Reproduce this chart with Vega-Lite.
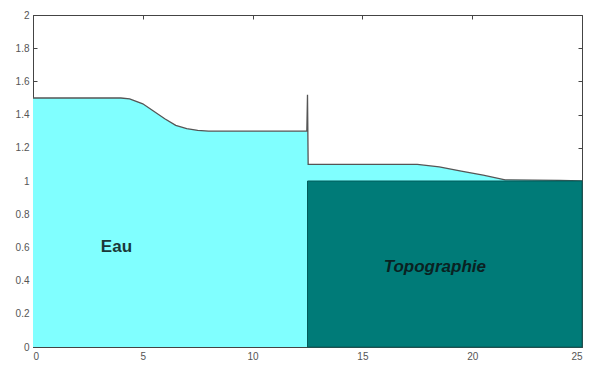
{
  "$schema": "https://vega.github.io/schema/vega-lite/v6.json",
  "width": 549,
  "height": 332,
  "autosize": {"type": "none"},
  "padding": {"left": 33, "top": 15, "right": 7, "bottom": 21},
  "background": "white",
  "config": {
    "view": {"stroke": "#444", "strokeWidth": 1},
    "axis": {
      "grid": false,
      "domainColor": "#444",
      "tickColor": "#444",
      "labelColor": "#555",
      "labelFont": "Liberation Sans",
      "labelFontSize": 10,
      "title": null
    }
  },
  "datasets": {
    "water": [
      {"x": 0, "h": 1.5},
      {"x": 4, "h": 1.5},
      {"x": 4.4, "h": 1.495},
      {"x": 5, "h": 1.465},
      {"x": 5.5, "h": 1.42},
      {"x": 6, "h": 1.375},
      {"x": 6.5, "h": 1.335},
      {"x": 7, "h": 1.315},
      {"x": 7.5, "h": 1.305},
      {"x": 8, "h": 1.3},
      {"x": 12.47, "h": 1.3},
      {"x": 12.5, "h": 1.52},
      {"x": 12.53, "h": 1.1},
      {"x": 17.5, "h": 1.1},
      {"x": 18.5, "h": 1.085},
      {"x": 19.5, "h": 1.06},
      {"x": 20.5, "h": 1.035},
      {"x": 21.5, "h": 1.007},
      {"x": 24, "h": 1.004},
      {"x": 25, "h": 1.0}
    ],
    "topo": [
      {"x0": 12.5, "x1": 25, "y0": 0, "y1": 1}
    ],
    "labels": [
      {"x": 3.8, "y": 0.6, "label": "Eau", "kind": "eau"},
      {"x": 18.3, "y": 0.48, "label": "Topographie", "kind": "topo"}
    ]
  },
  "resolve": {"axis": {"x": "independent", "y": "independent"}},
  "layer": [
    {
      "data": {"name": "water"},
      "mark": {"type": "area", "color": "#80ffff", "opacity": 1, "line": {"color": "#555", "strokeWidth": 1.3}},
      "encoding": {
        "x": {"field": "x", "type": "quantitative", "scale": {"domain": [0, 25], "nice": false},
              "axis": {"values": [0, 5, 10, 15, 20, 25], "tickSize": -4, "labelPadding": 8}},
        "y": {"field": "h", "type": "quantitative", "scale": {"domain": [0, 2], "nice": false},
              "axis": {"values": [0, 0.2, 0.4, 0.6, 0.8, 1, 1.2, 1.4, 1.6, 1.8, 2], "tickSize": -4, "labelPadding": 8, "format": "~g"}}
      }
    },
    {
      "data": {"name": "topo"},
      "mark": {"type": "rect", "color": "#007b78", "opacity": 1, "stroke": "#035c5a", "strokeWidth": 1},
      "encoding": {
        "x": {"field": "x0", "type": "quantitative",
              "axis": {"orient": "top", "values": [0, 5, 10, 15, 20, 25], "tickSize": -4, "labels": false, "domain": false}},
        "x2": {"field": "x1"},
        "y": {"field": "y0", "type": "quantitative",
              "axis": {"orient": "right", "values": [0, 0.2, 0.4, 0.6, 0.8, 1, 1.2, 1.4, 1.6, 1.8, 2], "tickSize": -4, "labels": false, "domain": false}},
        "y2": {"field": "y1"}
      }
    },
    {
      "data": {"name": "labels"},
      "transform": [{"filter": "datum.kind == 'eau'"}],
      "mark": {"type": "text", "font": "Liberation Sans", "fontSize": 17, "fontWeight": "bold", "color": "#1a3838"},
      "encoding": {
        "x": {"field": "x", "type": "quantitative", "axis": null},
        "y": {"field": "y", "type": "quantitative", "axis": null},
        "text": {"field": "label"}
      }
    },
    {
      "data": {"name": "labels"},
      "transform": [{"filter": "datum.kind == 'topo'"}],
      "mark": {"type": "text", "font": "Liberation Sans", "fontSize": 17, "fontWeight": "bold", "fontStyle": "italic", "color": "#0a2222"},
      "encoding": {
        "x": {"field": "x", "type": "quantitative", "axis": null},
        "y": {"field": "y", "type": "quantitative", "axis": null},
        "text": {"field": "label"}
      }
    }
  ]
}
